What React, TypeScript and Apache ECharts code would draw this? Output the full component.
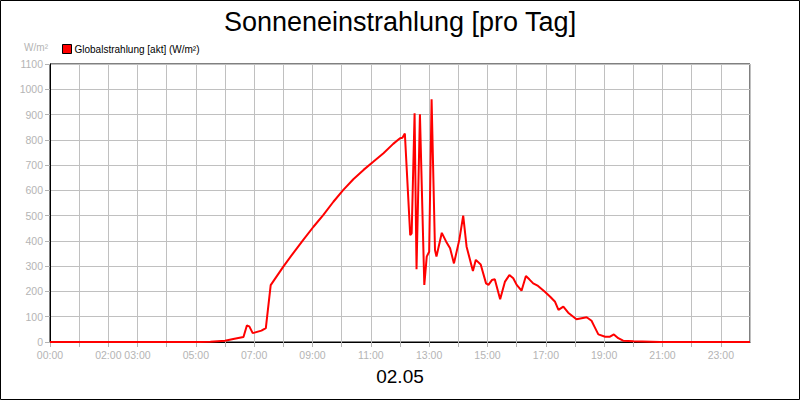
import React, { useEffect, useRef } from 'react';
import * as echarts from 'echarts';

// sample times (HH:MM) and global radiation in W/m²
const times = [
  '00:00', '05:00', '05:08', '05:30', '06:00', '06:17', '06:38', '06:45', '06:50', '06:57',
  '07:15', '07:24', '07:34', '08:00', '08:20', '08:41', '09:02', '09:22', '09:43', '10:03',
  '10:24', '10:45', '11:05', '11:26', '11:46', '12:00', '12:05', '12:10', '12:21', '12:24',
  '12:30', '12:34', '12:41', '12:50', '12:55', '13:00', '13:05', '13:12', '13:15', '13:26',
  '13:35', '13:43', '13:51', '14:02', '14:10', '14:17', '14:30', '14:36', '14:46', '14:57',
  '15:02', '15:09', '15:15', '15:26', '15:36', '15:45', '15:53', '16:00', '16:10', '16:19',
  '16:26', '16:34', '16:44', '16:58', '17:09', '17:19', '17:26', '17:36', '17:46', '18:03',
  '18:24', '18:34', '18:40', '18:48', '19:02', '19:12', '19:20', '19:29', '19:39', '20:00',
  '20:55', '24:00',
];
const globalRadiation = [
  0, 0, 0, 1, 5, 12, 20, 65, 62, 35,
  45, 55, 225, 298, 351, 404, 456, 502, 555, 601,
  644, 681, 713, 747, 784, 806, 808, 825, 423, 430,
  905, 288, 901, 226, 338, 357, 960, 364, 338, 432,
  397, 371, 311, 404, 500, 377, 281, 325, 307, 232,
  226, 245, 248, 169, 239, 265, 252, 226, 203, 261,
  248, 232, 222, 199, 179, 159, 127, 140, 116, 90,
  98, 84, 61, 30, 21, 21, 30, 15, 5, 3,
  0, 0,
];
// hours that carry a tick label on the time axis
const labelledHours = [0, 2, 3, 5, 7, 9, 11, 13, 15, 17, 19, 21, 23];

const toMinutes = (t: string) => {
  const [h, m] = t.split(':').map(Number);
  return h * 60 + m;
};

const pad = (n: number) => (n < 10 ? '0' + n : String(n));

const App: React.FC = () => {
  const chartRef = useRef<HTMLDivElement>(null);

  useEffect(() => {
    if (!chartRef.current) return;
    const chart = echarts.init(chartRef.current, undefined, { renderer: 'svg' });

    const font = 'Liberation Sans, Arial, sans-serif';
    const gray = '#b4b4b4';

    const option: echarts.EChartsOption = {
      animation: false,
      backgroundColor: '#fff',
      textStyle: { fontFamily: font },
      title: {
        text: 'Sonneneinstrahlung [pro Tag]',
        left: 'center',
        top: 3,
        textStyle: { fontSize: 27, fontWeight: 'normal', color: '#000', fontFamily: font },
      },
      legend: {
        left: 57,
        top: 39,
        icon: 'rect',
        itemWidth: 9,
        itemHeight: 9,
        itemGap: 10,
        itemStyle: { borderColor: '#000', borderWidth: 1 },
        textStyle: { fontSize: 10, color: '#000', fontFamily: font, padding: [0, 0, 0, -2] },
        data: ['Globalstrahlung [akt] (W/m²)'],
      },
      grid: {
        left: 50,
        right: 50,
        top: 64,
        bottom: 58,
        show: true,
        borderColor: '#000',
        borderWidth: 1,
      },
      xAxis: {
        type: 'value',
        min: 0,
        max: 1440,
        interval: 60,
        name: '02.05',
        nameLocation: 'middle',
        nameGap: 25,
        nameTextStyle: { fontSize: 19, color: '#000', fontFamily: font },
        axisLine: { lineStyle: { color: '#000', width: 1 } },
        axisTick: { show: true, length: 5, lineStyle: { color: gray } },
        axisLabel: {
          fontSize: 10.5,
          color: gray,
          fontFamily: font,
          margin: 7,
          showMaxLabel: false,
          formatter: (v: number) => {
            const h = Math.round(v / 60);
            return labelledHours.includes(h) && h < 24 ? pad(h) + ':00' : '';
          },
        },
        splitLine: { show: true, lineStyle: { color: '#c0c0c0', width: 1 } },
      },
      yAxis: {
        type: 'value',
        min: 0,
        max: 1100,
        interval: 100,
        name: 'W/m²',
        nameLocation: 'end',
        nameGap: 12,
        nameTextStyle: { fontSize: 10, color: gray, fontFamily: font, align: 'right', padding: [0, 2, 0, 0] },
        axisLine: { show: true, lineStyle: { color: '#000', width: 1 } },
        axisTick: { show: true, length: 5, lineStyle: { color: gray } },
        axisLabel: {
          fontSize: 10.5,
          color: gray,
          fontFamily: font,
          margin: 7,
          formatter: (v: number) => String(v),
        },
        splitLine: { show: true, lineStyle: { color: '#c0c0c0', width: 1 } },
      },
      graphic: [
        {
          type: 'rect',
          shape: { x: 0.5, y: 0.5, width: 799, height: 399 },
          style: { fill: 'none', stroke: '#000', lineWidth: 1 },
          silent: true,
        },
      ],
      series: [
        {
          name: 'Globalstrahlung [akt] (W/m²)',
          type: 'line',
          data: times.map((t, i) => [toMinutes(t), globalRadiation[i]]),
          showSymbol: false,
          symbol: 'none',
          color: '#ff0000',
          lineStyle: { color: '#ff0000', width: 2 },
        },
      ],
    };

    chart.setOption(option);
    return () => chart.dispose();
  }, []);

  return (
    <div
      ref={chartRef}
      style={{ position: 'absolute', left: 0, top: 0, width: '800px', height: '400px' }}
    />
  );
};

export default App;
